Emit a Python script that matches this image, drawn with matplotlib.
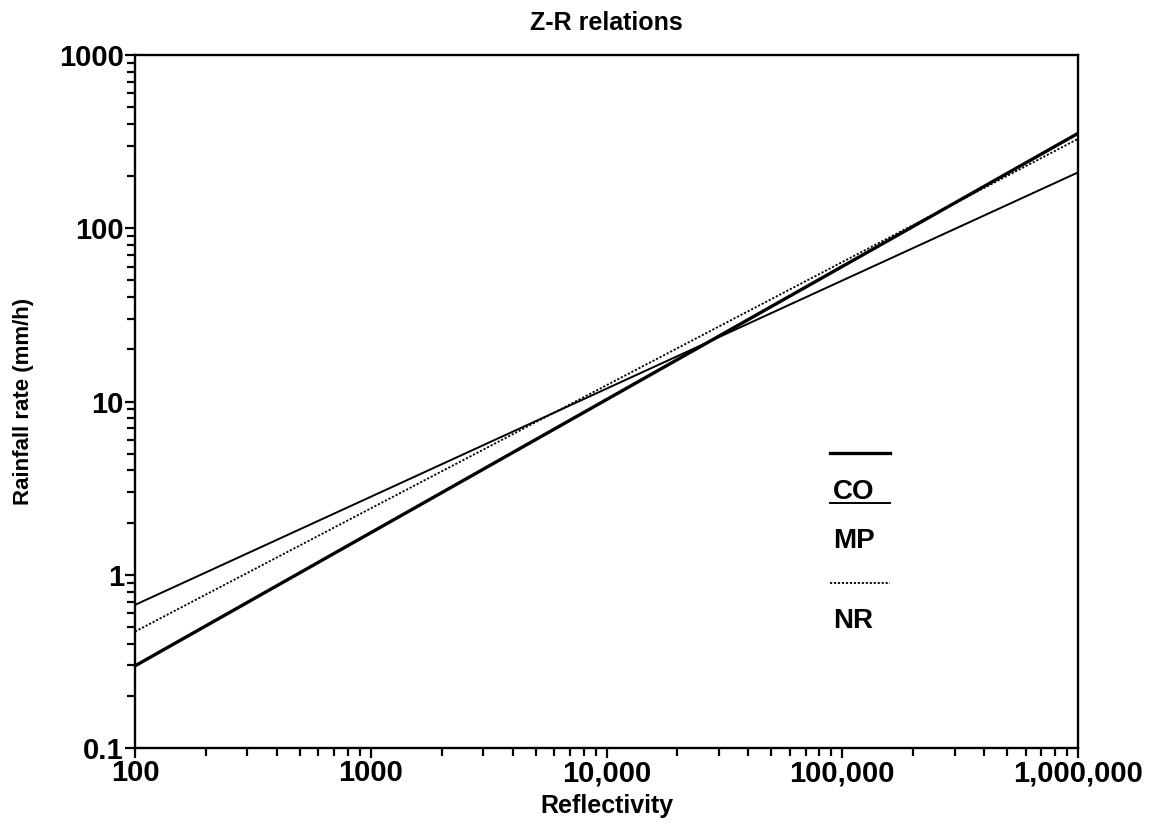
import numpy as np
import matplotlib.pyplot as plt
from matplotlib.ticker import FixedLocator, LogLocator, NullFormatter
from matplotlib.lines import Line2D

plt.rcParams['font.family'] = ['Liberation Sans', 'DejaVu Sans']

# reflectivity end points and rain rates for each relation
refl = [100, 1000000]
rate_co = [0.298, 353]
rate_mp = [0.67, 210]
rate_nr = [0.47, 328]

xticks = [100, 1000, 10000, 100000, 1000000]
xlabels = ['100', '1000', '10,000', '100,000', '1,000,000']
yticks = [0.1, 1, 10, 100, 1000]
ylabels = ['0.1', '1', '10', '100', '1000']

fig = plt.figure(figsize=(11.5, 8.27), dpi=100)
ax = fig.add_axes([0.1174, 0.0955, 0.82, 0.838])

ax.plot(refl, rate_co, color='black', lw=2.4, solid_capstyle='butt')
ax.plot(refl, rate_mp, color='black', lw=1.4)
ax.plot(refl, rate_nr, color='black', lw=1.3, ls=(0, (1.2, 1.0)))

ax.set_xscale('log')
ax.set_yscale('log')
ax.set_xlim(100, 1000000)
ax.set_ylim(0.1, 1000)

ax.xaxis.set_major_locator(FixedLocator(xticks))
ax.set_xticklabels(xlabels)
ax.xaxis.set_minor_locator(LogLocator(base=10, subs=np.arange(2, 10)))
ax.xaxis.set_minor_formatter(NullFormatter())
ax.yaxis.set_major_locator(FixedLocator(yticks))
ax.set_yticklabels(ylabels)
ax.yaxis.set_minor_locator(LogLocator(base=10, subs=np.arange(2, 10)))
ax.yaxis.set_minor_formatter(NullFormatter())

ax.tick_params(which='both', direction='out', width=1.6, top=False, right=False,
               labelsize=21, pad=1)
ax.tick_params(which='major', length=7)
ax.tick_params(which='minor', length=5.5)
for lab in ax.get_xticklabels() + ax.get_yticklabels():
    lab.set_fontweight('bold')
for s in ax.spines.values():
    s.set_linewidth(1.7)

ax.set_title('Z-R relations', fontsize=18, fontweight='bold', pad=18)
ax.set_xlabel('Reflectivity', fontsize=18, fontweight='bold', labelpad=5)
ax.set_ylabel('Rainfall rate (mm/h)', fontsize=16, fontweight='bold', labelpad=18)

# hand-made key: line above each name
keys = [('CO', dict(lw=2.4), 0.426, 0.370),
        ('MP', dict(lw=1.4), 0.354, 0.298),
        ('NR', dict(lw=1.3, ls=(0, (1.2, 1.0))), 0.238, 0.183)]
for name, style, ly, ty in keys:
    ax.add_line(Line2D([0.737, 0.801], [ly, ly], transform=ax.transAxes,
                       color='black', **style))
    ax.text(0.740, ty, name, transform=ax.transAxes, fontsize=20,
            fontweight='bold', va='center', ha='left')

fig.savefig('out.png', dpi=100)
